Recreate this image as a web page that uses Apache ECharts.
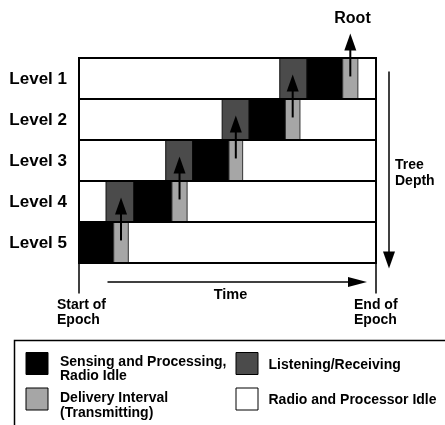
<!DOCTYPE html>
<html>
<head>
<meta charset="utf-8">
<style>html,body{margin:0;padding:0;background:#fff;}#c{width:445px;height:425px;}</style>
<script src="https://cdn.jsdelivr.net/npm/echarts@6/dist/echarts.min.js"></script>
</head>
<body>
<div id="c"></div>
<script>
// ---- data (time as % of epoch) ----
const levels = ['Level 1', 'Level 2', 'Level 3', 'Level 4', 'Level 5'];
const listenStart = [67.6, 48.2, 29.2, 9.1, null];
const listenEnd   = [76.8, 57.3, 38.3, 18.5, null];
const senseEnd    = [88.8, 69.5, 50.5, 31.3, 11.7];
const deliverEnd  = [93.9, 74.4, 55.1, 36.4, 16.6];
const legendLabels = [
  ['Sensing and Processing,', 'Radio Idle'],
  ['Listening/Receiving'],
  ['Delivery Interval', '(Transmitting)'],
  ['Radio and Processor Idle']
];
const legendColors = ['#000000', '#4b4b4b', '#a6a6a6', '#ffffff'];

const FONT = '"Liberation Sans", Arial, Helvetica, sans-serif';
const C_SENSE = legendColors[0], C_LISTEN = legendColors[1], C_DELIV = legendColors[2];

const rowData = levels.map((name, i) => [i, listenStart[i], listenEnd[i], senseEnd[i], deliverEnd[i]]);
const arrowData = levels.map((name, i) => [i, (senseEnd[i] + deliverEnd[i]) / 2]);

function rect(p0, p1, fill, stroke, lw) {
  return {
    type: 'rect',
    shape: { x: p0[0], y: p0[1], width: p1[0] - p0[0], height: p1[1] - p0[1] },
    style: { fill: fill, stroke: stroke, lineWidth: lw }
  };
}

function renderRow(params, api) {
  const i = api.value(0);
  const ls = api.value(1), le = api.value(2), se = api.value(3), de = api.value(4);
  const children = [];
  const a = api.coord([0, i]), b = api.coord([100, i + 1]);
  children.push(rect(a, b, '#fff', null, 0));
  let sStart = 0;
  if (!isNaN(ls) && ls !== null && listenStart[i] !== null) {
    children.push(rect(api.coord([ls, i]), api.coord([le, i + 1]), C_LISTEN, '#111', 1));
    sStart = le;
  }
  children.push(rect(api.coord([sStart, i]), api.coord([se, i + 1]), C_SENSE, '#000', 1));
  children.push(rect(api.coord([se, i]), api.coord([de, i + 1]), C_DELIV, '#333', 1));
  children.push(rect(a, b, 'none', '#000', 2));
  children.push({
    type: 'text',
    style: {
      x: a[0] - 12, y: (a[1] + b[1]) / 2 + 1,
      text: levels[i], align: 'right', verticalAlign: 'middle',
      font: 'bold 17px ' + FONT, fill: '#000'
    }
  });
  return { type: 'group', children: children };
}

function renderArrow(params, api) {
  const i = api.value(0), x = api.value(1);
  const bot = api.coord([x, i + 0.45]);
  const tip = api.coord([x, i - 0.6]);
  const headLen = 17, halfW = 6;
  return {
    type: 'group',
    children: [
      { type: 'line', shape: { x1: bot[0], y1: bot[1], x2: tip[0], y2: tip[1] + headLen - 1 },
        style: { stroke: '#000', lineWidth: 2 } },
      { type: 'polygon', shape: { points: [[tip[0], tip[1]], [tip[0] - halfW, tip[1] + headLen], [tip[0] + halfW, tip[1] + headLen]] },
        style: { fill: '#000' } }
    ]
  };
}

const txt = (x, y, text, size, align) => ({
  type: 'text', x: x, y: y,
  style: { text: text, font: 'bold ' + size + 'px ' + FONT, fill: '#000', align: align || 'left', verticalAlign: 'middle' }
});

const graphics = [
  txt(352.5, 18.5, 'Root', 16, 'center'),
  // tree depth arrow
  { type: 'line', shape: { x1: 389, y1: 71.5, x2: 389, y2: 253 }, style: { stroke: '#000', lineWidth: 1.5 } },
  { type: 'polygon', shape: { points: [[383, 251.5], [395, 251.5], [389, 268.5]] }, style: { fill: '#000' } },
  txt(395, 165.5, 'Tree', 14),
  txt(395, 181.5, 'Depth', 14),
  // epoch markers
  { type: 'line', shape: { x1: 79, y1: 263, x2: 79, y2: 293.5 }, style: { stroke: '#000', lineWidth: 1.5 } },
  { type: 'line', shape: { x1: 376, y1: 263, x2: 376, y2: 293.5 }, style: { stroke: '#000', lineWidth: 1.5 } },
  // time arrow
  { type: 'line', shape: { x1: 107.5, y1: 282, x2: 350, y2: 282 }, style: { stroke: '#000', lineWidth: 1.5 } },
  { type: 'polygon', shape: { points: [[348, 277], [348, 287], [367, 282]] }, style: { fill: '#000' } },
  txt(230.5, 294.5, 'Time', 14.5, 'center'),
  txt(57, 305, 'Start of', 14),
  txt(57, 320.5, 'Epoch', 14),
  txt(354, 305, 'End of', 14),
  txt(354, 320.5, 'Epoch', 14),
  // legend box
  { type: 'rect', shape: { x: 14.5, y: 340.5, width: 440, height: 100 }, style: { fill: 'none', stroke: '#000', lineWidth: 1.5 } }
];

const legendPos = [
  { sx: 26, sy: 352.5, tx: 60, ty: [362.5, 376.5] },
  { sx: 236, sy: 352.5, tx: 268.5, ty: [365.5] },
  { sx: 26, sy: 388, tx: 60, ty: [398.5, 413] },
  { sx: 236, sy: 388, tx: 268.5, ty: [400.5] }
];
legendLabels.forEach((lines, k) => {
  const p = legendPos[k];
  graphics.push({ type: 'rect', shape: { x: p.sx, y: p.sy, width: 22, height: 22 },
    style: { fill: legendColors[k], stroke: '#000', lineWidth: 1 } });
  lines.forEach((line, j) => graphics.push(txt(p.tx, p.ty[j], line, 14)));
});

const chart = echarts.init(document.getElementById('c'), null, { renderer: 'canvas' });
chart.setOption({
  animation: false,
  backgroundColor: '#fff',
  grid: { left: 79, right: 69, top: 58, bottom: 162 },
  xAxis: { type: 'value', min: 0, max: 100, show: false },
  yAxis: { type: 'value', min: 0, max: 5, inverse: true, show: false },
  series: [
    { type: 'custom', renderItem: renderRow, data: rowData, clip: false, z: 2,
      encode: { x: [1, 2, 3, 4], y: 0 } },
    { type: 'custom', renderItem: renderArrow, data: arrowData, clip: false, z: 5,
      encode: { x: 1, y: 0 } }
  ],
  graphic: graphics
});
</script>
</body>
</html>
